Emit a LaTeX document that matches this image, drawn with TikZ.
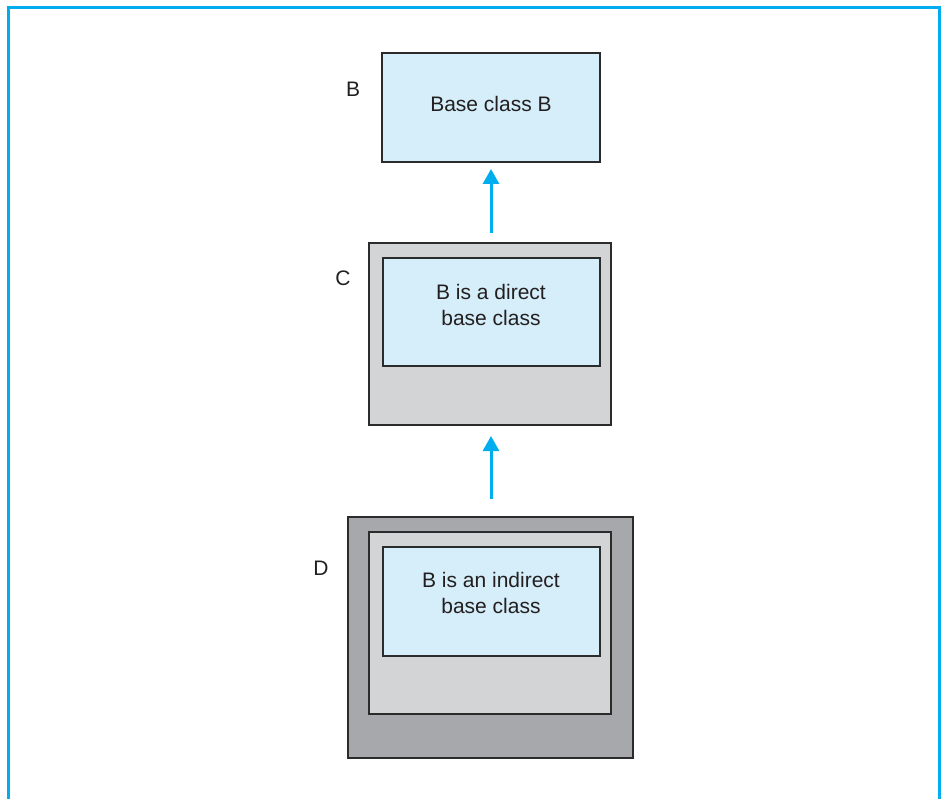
\documentclass[tikz,border=0pt]{standalone}
\usepackage{fontspec}
\setmainfont{Liberation Sans}
\usetikzlibrary{arrows.meta}
\definecolor{frameblue}{HTML}{00AEEF}
\definecolor{lblue}{HTML}{D5EEF9}
\definecolor{lgray}{HTML}{D3D4D6}
\definecolor{dgray}{HTML}{A7A8AB}
\definecolor{edge}{HTML}{2B2B2B}
\definecolor{txt}{HTML}{231F20}
\tikzset{
  box/.style={draw=edge, line width=1.5pt},
  lbl/.style={font=\fontsize{21}{25.5}\selectfont, text=txt, align=center},
  inh/.style={draw=frameblue, line width=3pt, -{Triangle[length=15pt,width=16pt]}}
}
\begin{document}
\begin{tikzpicture}[x=1pt,y=-1pt]
\useasboundingbox (0,0) rectangle (942,799);
\draw[frameblue, line width=3pt] (8.5,799) -- (8.5,7.5) -- (939,7.5) -- (939,799);
% B
\draw[box, fill=lblue] (382,53) rectangle (600,162);
\node[lbl] (tB) at (491,104) {Base class B};
\node[lbl] (lB) at (353,89) {B};
% C
\draw[box, fill=lgray] (369,243) rectangle (611,425);
\draw[box, fill=lblue] (383,258) rectangle (600,366);
\node[lbl] (tC) at (491,305) {B is a direct\\base class};
\node[lbl] (lC) at (343,278) {C};
% D
\draw[box, fill=dgray] (348,517) rectangle (633,758);
\draw[box, fill=lgray] (369,532) rectangle (611,714);
\draw[box, fill=lblue] (383,547) rectangle (600,656);
\node[lbl] (tD) at (491,593) {B is an indirect\\base class};
\node[lbl] (lD) at (321,568) {D};
% arrows
\coordinate (a1s) at (491,233);
\coordinate (a1e) at (491,169);
\coordinate (a2s) at (491,499);
\coordinate (a2e) at (491,436);
\draw[inh] (a1s) -- (a1e);
\draw[inh] (a2s) -- (a2e);
\end{tikzpicture}
\end{document}
